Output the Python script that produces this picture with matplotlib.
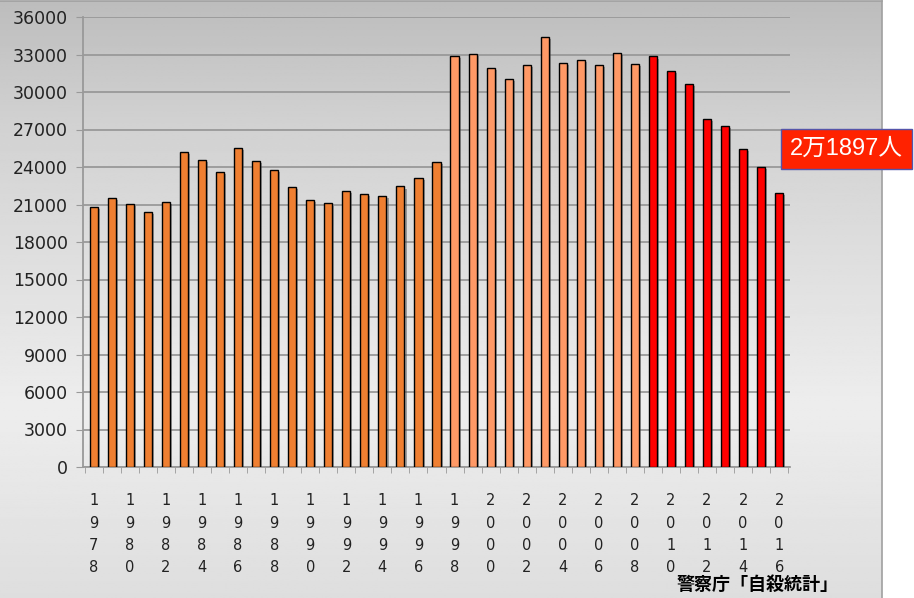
import numpy as np
import matplotlib.pyplot as plt
import matplotlib.patheffects as pe

plt.rcParams['font.family'] = ['DejaVu Sans', 'Noto Sans CJK JP']

# 自殺者数 (警察庁「自殺統計」), 1978-2016
years = list(range(1978, 2017))
deaths = [20788, 21503, 21048, 20434, 21228, 25202, 24596, 23599, 25524, 24460,
          23742, 22436, 21346, 21084, 22104, 21851, 21679, 22445, 23104, 24391,
          32863, 33048, 31957, 31042, 32143, 34427, 32325, 32552, 32155, 33093,
          32249, 32845, 31690, 30651, 27858, 27283, 25427, 24025, 21897]

ORANGE = '#ef7f31'
SALMON = '#ff9966'
RED = '#ff0000'
colors = [ORANGE if y < 1998 else (SALMON if y < 2009 else RED) for y in years]

yticks = list(range(0, 36001, 3000))
xlabels = ['\n'.join(str(y)) if y % 2 == 0 else '' for y in years]

fig = plt.figure(figsize=(9.14, 5.98), dpi=100)

# grey gradient panel behind the chart
bg = fig.add_axes([0, 0, 882 / 914, 1 - 1 / 598], zorder=-10)
stops_y = [0.0, 0.2, 0.68, 1.0]
stops_v = [0.74, 0.82, 0.93, 0.87]
grad = np.interp(np.linspace(0, 1, 300), stops_y, stops_v)[:, None]
bg.imshow(np.repeat(grad, 2, axis=1), cmap='gray', vmin=0, vmax=1,
          aspect='auto', extent=[0, 1, 1, 0])
bg.set_xlim(0, 1)
bg.set_ylim(1, 0)
bg.set_xticks([])
bg.set_yticks([])
for s in bg.spines.values():
    s.set_color('#a0a0a0')
    s.set_linewidth(1.2)
bg.spines['left'].set_visible(False)
bg.spines['bottom'].set_visible(False)

ax = fig.add_axes([83 / 914, 1 - 467 / 598, (790 - 83) / 914, 450 / 598])
ax.patch.set_alpha(0)

x = np.arange(len(years))
bars = ax.bar(x, deaths, width=0.45, color=colors, edgecolor='black',
              linewidth=1.0, zorder=3)
for b in bars:
    b.set_path_effects([pe.SimplePatchShadow(offset=(1.5, -1.5), shadow_rgbFace='#555555', alpha=0.5),
                        pe.Normal()])

ax.set_ylim(0, 36000)
ax.set_xlim(-0.6, len(years) - 0.4)
ax.set_yticks(yticks)
ax.set_yticklabels([str(v) for v in yticks], fontsize=12.5, color='#222222')
ax.yaxis.grid(True, color='#999999', linewidth=1.3, zorder=0)
ax.set_axisbelow(True)

ax.set_xticks(x)
ax.set_xticklabels(xlabels, fontsize=10.5, color='#222222', linespacing=1.6,
                   va='top')
ax.tick_params(axis='x', length=0, pad=19)
ax.set_xticks(np.arange(len(years) + 1) - 0.5, minor=True)
ax.tick_params(axis='x', which='minor', length=4, color='#999999', direction='out')
ax.tick_params(axis='y', length=5, color='#999999', pad=6)

for side in ['top', 'right']:
    ax.spines[side].set_visible(False)
ax.spines['left'].set_color('#999999')
ax.spines['bottom'].set_color('#999999')
ax.spines['left'].set_linewidth(1.3)
ax.spines['bottom'].set_linewidth(1.3)

# latest value callout
fig.text(790 / 914, 1 - 149 / 598, '2万1897人', fontsize=17, color='white',
         ha='left', va='center', family=['Liberation Sans', 'Noto Sans CJK JP'],
         bbox=dict(boxstyle='square,pad=0.38', facecolor='#ff2200',
                   edgecolor='#5555aa', linewidth=1.0))

fig.text(758 / 914, 1 - 585 / 598, '警察庁「自殺統計」', fontsize=13,
         fontweight='bold', color='black', ha='center', va='center',
         family=['Noto Sans CJK JP'])

fig.savefig('out.png', dpi=100)
